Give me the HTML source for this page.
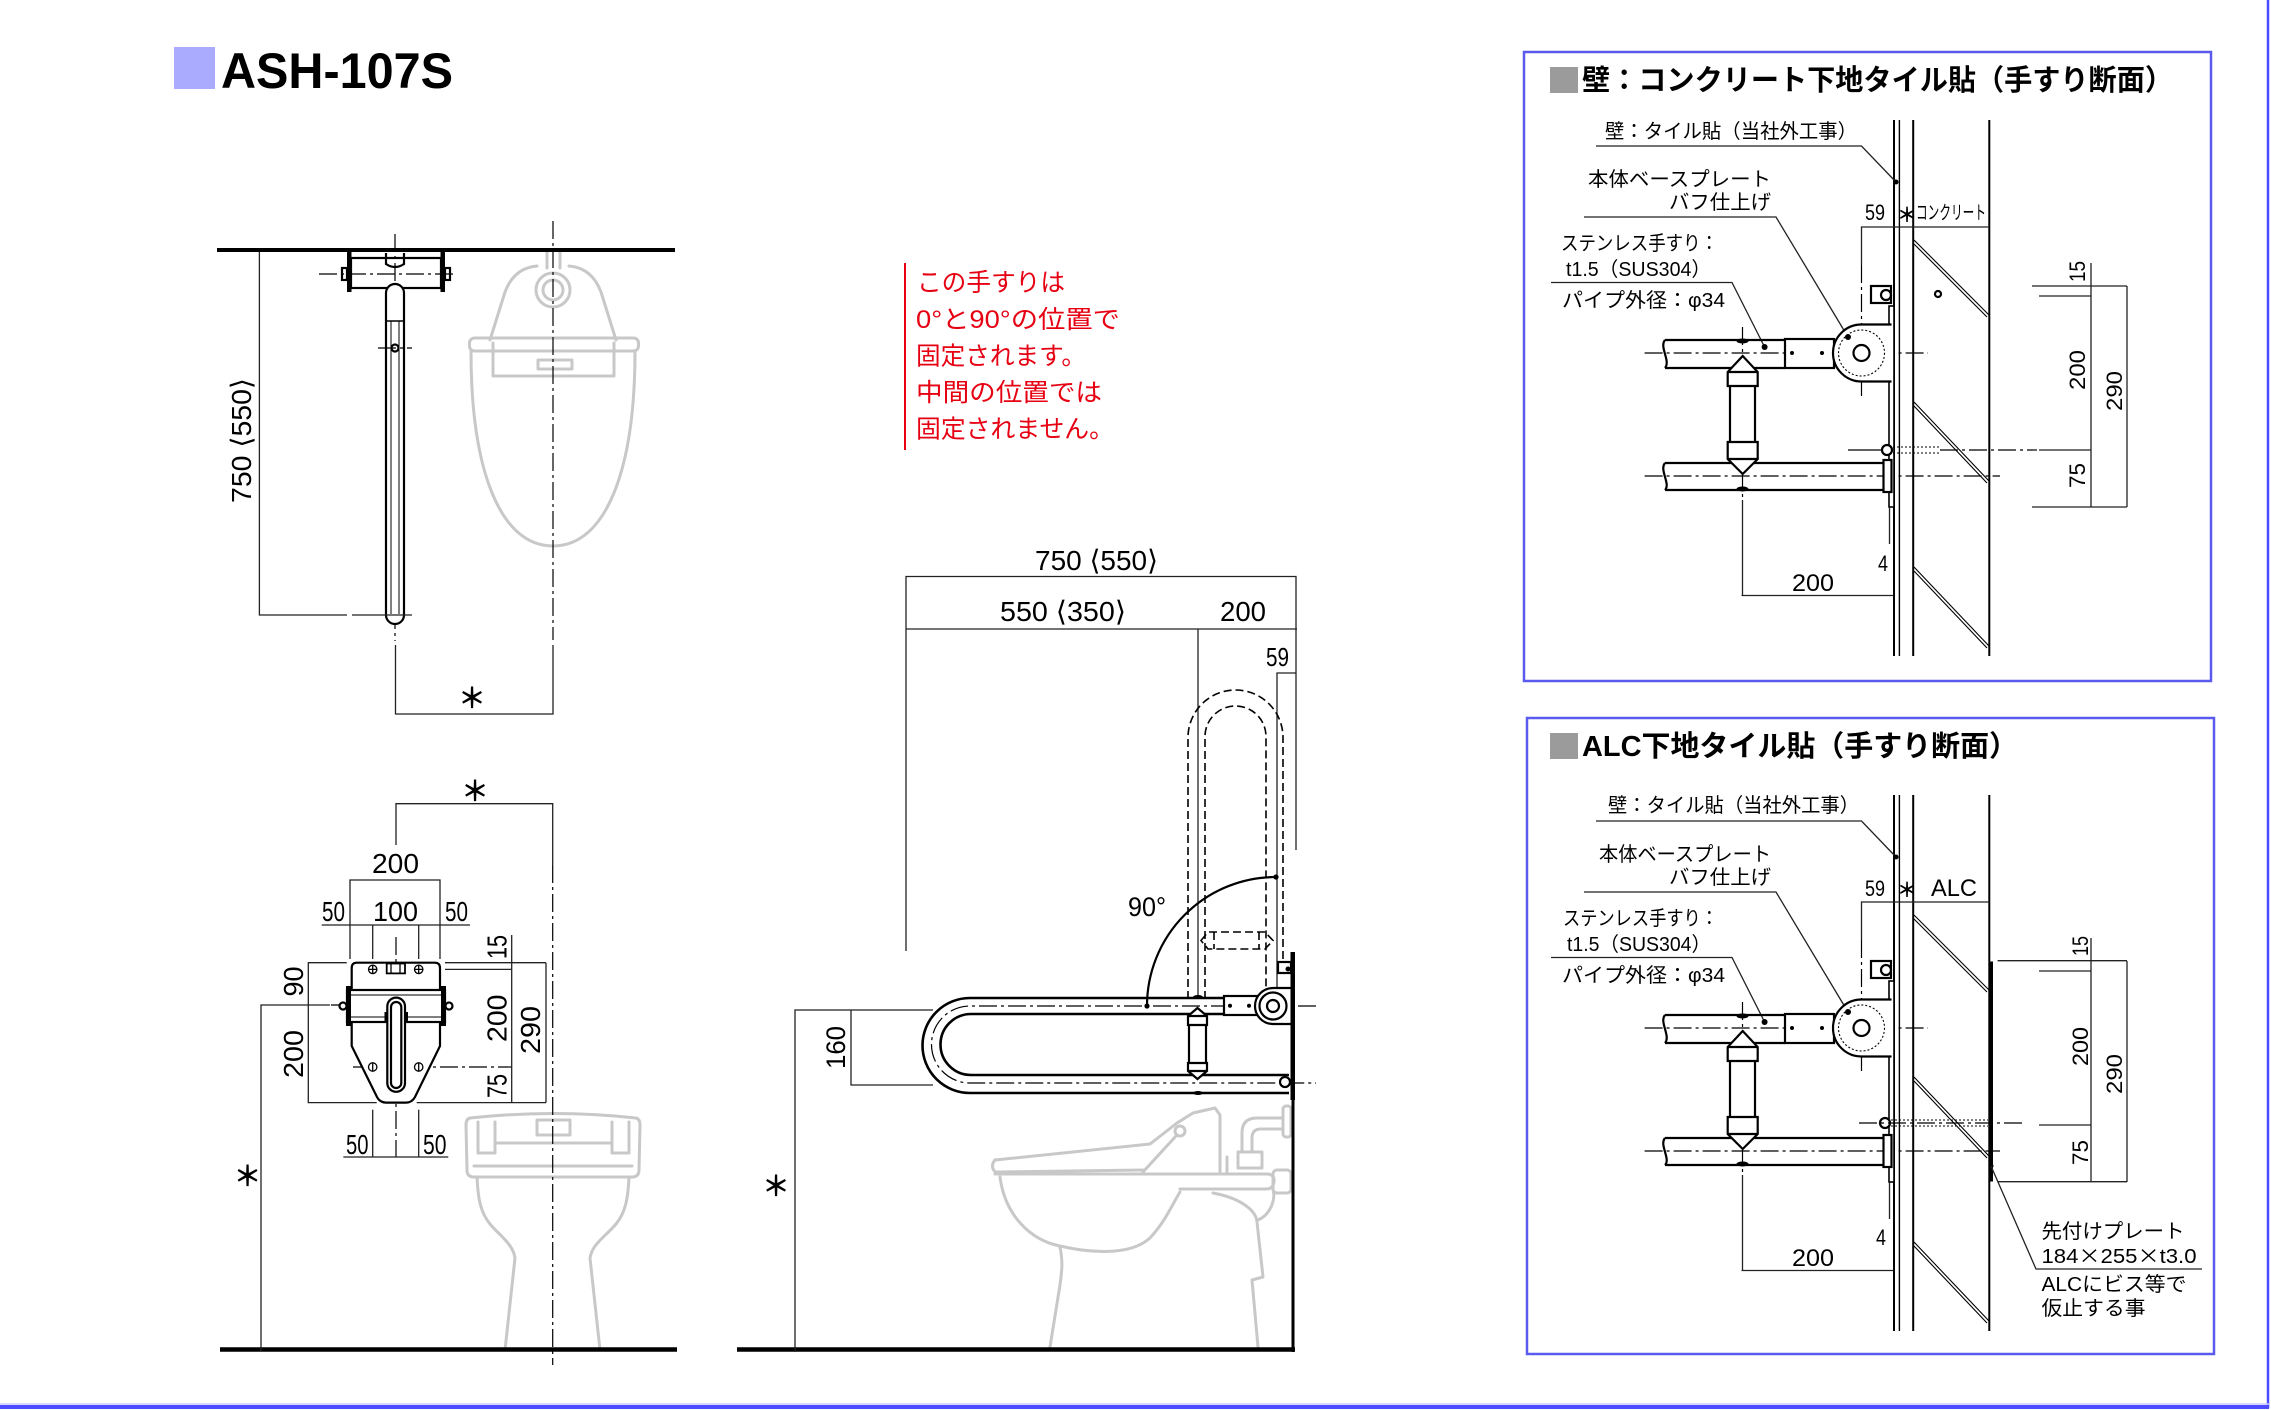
<!DOCTYPE html>
<html><head><meta charset="utf-8">
<style>
html,body{margin:0;padding:0;background:#fff;}
svg{display:block}
text{font-family:"Liberation Sans","DejaVu Sans","Noto Sans CJK JP",sans-serif;fill:#000}
.jp{font-family:"Liberation Sans","Noto Sans CJK JP",sans-serif}
.st{font-family:"Noto Sans CJK JP",sans-serif;font-weight:bold}
.d{stroke:#222;stroke-width:1.3;fill:none}
.o{stroke:#000;stroke-width:2.2;fill:none}
.ow{stroke:#000;stroke-width:2.2;fill:#fff}
.g{stroke:#c8c8c8;stroke-width:3;fill:none;stroke-linejoin:round;stroke-linecap:round}
.c{stroke:#000;stroke-width:1.2;stroke-dasharray:18 4 3 4;fill:none}
.h{stroke:#000;stroke-width:1.6;stroke-dasharray:8 4;fill:none}
</style></head><body>
<svg width="2271" height="1410" viewBox="0 0 2271 1410" xmlns="http://www.w3.org/2000/svg">
<rect width="2271" height="1410" fill="#fff"/>

<!-- page frame -->
<line x1="2268" y1="0" x2="2268" y2="1408" stroke="#4b4bff" stroke-width="2.5"/>
<line x1="0" y1="1407" x2="2269" y2="1407" stroke="#4b4bff" stroke-width="4"/>
<line x1="0" y1="1404" x2="2269" y2="1404" stroke="#c8c8ff" stroke-width="1.5"/>

<!-- title -->
<rect x="174" y="47" width="41" height="42" fill="#aaaaff"/>
<text x="221" y="88" font-size="50" font-weight="bold" textLength="232" lengthAdjust="spacingAndGlyphs">ASH-107S</text>

<!-- ================= PLAN VIEW ================= -->
<g>
  <path class="g" d="M547,252 V268 M560,252 V268"/>
  <circle class="g" cx="553" cy="290" r="17"/>
  <circle class="g" cx="553" cy="290" r="10"/>
  <path class="g" d="M490,340 L505,292 Q514,268 537,266 M569,266 Q592,268 601,292 L616,340"/>
  <rect class="g" x="469.5" y="338" width="169" height="13" rx="5"/>
  <path class="g" d="M493,343 V376 H614 V343"/>
  <rect class="g" x="538" y="360" width="34" height="9"/>
  <path class="g" d="M471,351 C471,470 500,546 553,546 C606,546 635,470 635,351"/>
  <line x1="217" y1="250" x2="675" y2="250" stroke="#000" stroke-width="4"/>
  <line class="c" x1="553" y1="221" x2="553" y2="640"/>
  <line class="c" x1="395" y1="234" x2="395" y2="641"/>
  <line class="c" x1="319" y1="274" x2="454" y2="274"/>
  <rect x="351" y="258" width="90" height="30" class="o"/>
  <rect x="347" y="252" width="4.5" height="40" fill="#000"/>
  <rect x="440.5" y="252" width="4.5" height="40" fill="#000"/>
  <rect x="342" y="268" width="5" height="12" class="o" stroke-width="1.6"/>
  <rect x="445" y="268" width="5" height="12" class="o" stroke-width="1.6"/>
  <path d="M386,253 V264 Q395,270 404,264 V253" class="o" stroke-width="1.6"/>
  <rect x="386" y="284" width="18" height="340" rx="9" class="ow" stroke-width="2"/>
  <line x1="386" y1="321" x2="404" y2="321" stroke="#000" stroke-width="1.6"/>
  <line x1="391" y1="321" x2="391" y2="614" stroke="#000" stroke-width="1"/>
  <line x1="399" y1="321" x2="399" y2="614" stroke="#000" stroke-width="1"/>
  <circle cx="395" cy="348" r="3.5" class="o" stroke-width="1.5"/>
  <line class="c" x1="378" y1="348" x2="412" y2="348"/>
  <polyline class="d" points="259.4,252 259.4,615 347,615"/>
  <line class="d" x1="352" y1="615" x2="412" y2="615"/>
  <polyline class="d" points="395.5,645 395.5,714 553,714 553,645"/>
  <text transform="translate(251,503) rotate(-90)" font-size="28" textLength="125" lengthAdjust="spacingAndGlyphs">750 ⟨550⟩</text>
  <text class="st" x="472" y="708" font-size="28" text-anchor="middle">＊</text>
</g>

<!-- ================= FRONT VIEW ================= -->
<g>
  <path class="g" d="M470,1118 Q553,1109 636,1118 Q640,1119 640,1125 L639,1170 Q639,1177 632,1177 H474 Q467,1177 467,1170 L466,1125 Q466,1119 470,1118 Z"/>
  <path class="g" d="M474,1166 H632 M478,1122 V1153 H495 V1122 M612,1122 V1153 H629 V1122 M495,1143 H612"/>
  <rect class="g" x="537" y="1120" width="33" height="15"/>
  <path class="g" d="M477,1177 C478,1200 481,1213 490,1224 C500,1236 513,1244 515,1258 L505,1350"/>
  <path class="g" d="M629,1177 C628,1200 625,1213 616,1224 C606,1236 592,1244 590,1258 L600,1350"/>
  <line x1="220" y1="1349.5" x2="677" y2="1349.5" stroke="#000" stroke-width="4.5"/>
  <polyline class="d" points="396,845 396,803.7 552.7,803.7 552.7,865"/>
  <line class="c" x1="552.7" y1="865" x2="552.7" y2="1365"/>
  <line class="c" x1="396" y1="937" x2="396" y2="1157"/>
  <line class="c" x1="331" y1="1005" x2="453" y2="1005"/>
  <line class="c" x1="353" y1="1067" x2="511.7" y2="1067"/>
  <path class="ow" stroke-width="2" d="M351.7,968 Q351.7,962.7 357,962.7 H434.7 Q440,962.7 440,968 V1046 L415,1097 Q412,1102.6 406,1102.6 H386 Q380,1102.6 377,1097 L351.7,1046 Z"/>
  <g stroke="#000" stroke-width="1.3" fill="none">
    <circle cx="372.7" cy="969.4" r="4.2"/><path d="M368.5,969.4 H376.9 M372.7,965.2 V973.6"/>
    <circle cx="418.7" cy="969.4" r="4.2"/><path d="M414.5,969.4 H422.9 M418.7,965.2 V973.6"/>
    <circle cx="372.7" cy="1067" r="4.2"/><path d="M372.7,1062.8 V1071.2"/>
    <circle cx="418.7" cy="1067" r="4.2"/><path d="M418.7,1062.8 V1071.2"/>
    <rect x="386.7" y="963.5" width="18.3" height="9.9" stroke-width="1.8"/>
    <path d="M391,963.5 V973 M400,963.5 V973"/>
  </g>
  <rect x="347" y="990" width="98" height="32" class="ow" stroke-width="2"/>
  <path d="M351,995 H441 M351,1017 H441" stroke="#000" stroke-width="1"/>
  <rect x="346" y="986" width="5" height="40" fill="#000"/>
  <rect x="441" y="986" width="5" height="40" fill="#000"/>
  <circle cx="343" cy="1006" r="3.5" class="ow" stroke-width="1.6"/>
  <circle cx="449" cy="1006" r="3.5" class="ow" stroke-width="1.6"/>
  <rect x="387.3" y="997.6" width="17.7" height="94.2" rx="8.85" class="ow" stroke-width="2"/>
  <rect x="391" y="1002" width="10.3" height="86" rx="5.15" class="o" stroke-width="1.3"/>
  <rect x="384.5" y="1012" width="3" height="10" fill="#000"/>
  <rect x="405" y="1012" width="3" height="10" fill="#000"/>
  <g class="d">
    <polyline points="350,959 350,880 440,880 440,959"/>
    <line x1="321.7" y1="925" x2="470" y2="925"/>
    <line x1="372.7" y1="925" x2="372.7" y2="959"/>
    <line x1="418.7" y1="925" x2="418.7" y2="959"/>
    <polyline points="346.7,962.7 308.3,962.7 308.3,1102.6 376.7,1102.6"/>
    <polyline points="330,1005 261,1005 261,1351"/>
    <line x1="372.7" y1="1109.7" x2="372.7" y2="1157"/>
    <line x1="418.7" y1="1109.7" x2="418.7" y2="1157"/>
    <line x1="343.3" y1="1157" x2="448.3" y2="1157"/>
    <line x1="445" y1="962.7" x2="546" y2="962.7"/>
    <line x1="445" y1="969.4" x2="511.7" y2="969.4"/>
    <line x1="416.7" y1="1102.6" x2="546" y2="1102.6"/>
    <line x1="511.7" y1="935" x2="511.7" y2="1102.6"/>
    <line x1="546" y1="962.7" x2="546" y2="1102.6"/>
  </g>
  <text class="st" x="475" y="801" font-size="28" text-anchor="middle">＊</text>
  <text class="st" x="247.5" y="1186" font-size="28" text-anchor="middle">＊</text>
  <g font-size="28">
    <text x="372" y="873" textLength="47" lengthAdjust="spacingAndGlyphs">200</text>
    <text x="322" y="921" textLength="23" lengthAdjust="spacingAndGlyphs">50</text>
    <text x="373" y="921" textLength="45" lengthAdjust="spacingAndGlyphs">100</text>
    <text x="445" y="921" textLength="23" lengthAdjust="spacingAndGlyphs">50</text>
    <text x="346" y="1154" textLength="22.5" lengthAdjust="spacingAndGlyphs">50</text>
    <text x="423" y="1154" textLength="23.5" lengthAdjust="spacingAndGlyphs">50</text>
    <text transform="translate(303,996.5) rotate(-90)" textLength="30" lengthAdjust="spacingAndGlyphs">90</text>
    <text transform="translate(303,1078) rotate(-90)" textLength="48" lengthAdjust="spacingAndGlyphs">200</text>
    <text transform="translate(506.7,959) rotate(-90)" textLength="24" lengthAdjust="spacingAndGlyphs">15</text>
    <text transform="translate(506.7,1042) rotate(-90)" textLength="47.5" lengthAdjust="spacingAndGlyphs">200</text>
    <text transform="translate(506.7,1098) rotate(-90)" textLength="24" lengthAdjust="spacingAndGlyphs">75</text>
    <text transform="translate(540,1054) rotate(-90)" textLength="48" lengthAdjust="spacingAndGlyphs">290</text>
  </g>
</g>

<!-- ================= RED NOTE ================= -->
<g>
  <line x1="905" y1="263" x2="905" y2="450" stroke="#e60012" stroke-width="2"/>
  <g class="jp" font-size="25">
    <text x="917" y="291" style="fill:#e60012" textLength="148" lengthAdjust="spacingAndGlyphs">この手すりは</text>
    <text x="916" y="328" style="fill:#e60012" textLength="204" lengthAdjust="spacingAndGlyphs">0°と90°の位置で</text>
    <text x="916" y="364.5" style="fill:#e60012" textLength="170" lengthAdjust="spacingAndGlyphs">固定されます。</text>
    <text x="916" y="401" style="fill:#e60012" textLength="186" lengthAdjust="spacingAndGlyphs">中間の位置では</text>
    <text x="916" y="437.5" style="fill:#e60012" textLength="198" lengthAdjust="spacingAndGlyphs">固定されません。</text>
  </g>
</g>

<!-- ================= SIDE VIEW ================= -->
<g>
  <path class="g" d="M995,1160 L1150,1144 L1177,1123 L1193,1113 L1215,1108 L1220,1115 V1172"/>
  <path class="g" d="M995,1160 Q990,1166 995,1172 L1143,1170"/>
  <path class="g" d="M1143,1172 L1176,1136"/>
  <circle class="g" cx="1180" cy="1131" r="5"/>
  <path class="g" d="M995,1174 H1268 Q1275,1175 1274,1182 Q1273,1189 1266,1189 H1180"/>
  <path class="g" d="M1000,1177 C1005,1215 1030,1240 1060,1246 C1090,1253 1130,1256 1150,1238 C1165,1222 1172,1205 1180,1192"/>
  <path class="g" d="M1060,1247 C1063,1262 1062,1270 1060,1285 L1050,1347"/>
  <path class="g" d="M1213,1193 C1240,1198 1256,1210 1257,1222 L1263,1277 L1252,1280 L1258,1347"/>
  <path class="g" d="M1273,1189 C1276,1200 1270,1215 1258,1220"/>
  <path class="g" d="M1227,1157 V1172"/>
  <path class="g" d="M1242,1152 V1133 Q1242,1118 1257,1118 H1283 M1252,1152 V1138 Q1252,1129 1261,1129 H1283"/>
  <rect class="g" x="1283" y="1106" width="8" height="31" rx="3"/>
  <rect class="g" x="1238" y="1152" width="24" height="16"/>
  <rect class="g" x="1273" y="1170" width="18" height="23" rx="4"/>
  <line x1="737" y1="1349.5" x2="1295" y2="1349.5" stroke="#000" stroke-width="4.5"/>
  <line x1="1293" y1="952" x2="1293" y2="1352" stroke="#000" stroke-width="3"/>
  <g class="d">
    <polyline points="906,951 906,576.5 1296,576.5 1296,850"/>
    <line x1="906" y1="629" x2="1297" y2="629"/>
    <line x1="1198" y1="629" x2="1198" y2="999"/>
    <polyline points="1277,999 1277,673 1296,673"/>
    <polyline points="795,1352 795,1010 933,1010"/>
    <polyline points="933,1085 851,1085 851,1010"/>
  </g>
  <g font-size="28">
    <text x="1035" y="570" textLength="123" lengthAdjust="spacingAndGlyphs">750 ⟨550⟩</text>
    <text x="1000" y="621" textLength="126" lengthAdjust="spacingAndGlyphs">550 ⟨350⟩</text>
    <text x="1220" y="621" textLength="46" lengthAdjust="spacingAndGlyphs">200</text>
    <text x="1266" y="666" font-size="26" textLength="23" lengthAdjust="spacingAndGlyphs">59</text>
    <text x="1128" y="916" font-size="27" textLength="38" lengthAdjust="spacingAndGlyphs">90°</text>
    <text transform="translate(845,1069) rotate(-90)" font-size="27" textLength="43" lengthAdjust="spacingAndGlyphs">160</text>
  </g>
  <text class="st" x="776" y="1196" font-size="28" text-anchor="middle">＊</text>
  <path class="h" d="M1188,999 V737.5 A47.5 47.5 0 0 1 1283,737.5 V960"/>
  <path class="h" d="M1205,999 V736.5 A30.5 30.5 0 0 1 1266,736.5 V988"/>
  <path class="h" d="M1201,940.5 L1208,932 H1265 L1273,940.5 L1265,949 H1208 Z M1214,932 V949 M1259,932 V949"/>
  <path d="M1147,1006 A129 129 0 0 1 1276,877" stroke="#000" stroke-width="2.2" fill="none"/>
  <circle cx="1147" cy="1006" r="2.6" fill="#000"/>
  <circle cx="1276" cy="877" r="2.6" fill="#000"/>
  <path d="M1226,998 H970 A47.5 47.5 0 0 0 970,1093 H1289" stroke="#000" stroke-width="2.6" fill="none"/>
  <path d="M1226,1014 H971 A30.5 30.5 0 0 0 971,1075 H1289" stroke="#000" stroke-width="2.6" fill="none"/>
  <path class="c" d="M1316,1006 H970 A38.5 38.5 0 0 0 970,1083 H1316"/>
  <rect x="1224" y="996" width="33" height="19" class="ow" stroke-width="2"/>
  <circle cx="1230" cy="1005.7" r="2" fill="#000"/>
  <circle cx="1249" cy="1005.7" r="2" fill="#000"/>
  <path d="M1292,988 H1273 A18 18 0 0 0 1273,1024 H1292" class="ow" stroke-width="2"/>
  <circle cx="1273" cy="1006" r="13.5" class="o" stroke-width="1.6"/>
  <circle cx="1273" cy="1006" r="6" class="o" stroke-width="2"/>
  <rect x="1290.5" y="952" width="4.5" height="148" fill="#000"/>
  <rect x="1278" y="962" width="13" height="11" class="ow" stroke-width="2"/>
  <circle cx="1288" cy="969" r="2.5" fill="#000"/>
  <circle cx="1285" cy="1082" r="5" class="ow" stroke-width="2"/>
  <path class="ow" stroke-width="2" d="M1197.5,1008 L1207,1016 V1025 H1206 V1063 H1207 V1071 L1197.5,1079 L1188,1071 V1063 H1189 V1025 H1188 V1016 Z M1188,1016 H1207 M1188,1025 H1207 M1188,1063 H1207 M1188,1071 H1207"/>
  <ellipse cx="1198" cy="997" rx="5" ry="2" fill="#000"/>
  <ellipse cx="1198" cy="1093" rx="5" ry="2" fill="#000"/>
</g>

<!-- ================= RIGHT PANELS ================= -->
<defs>
<g id="mech">
  <line x1="1894" y1="120" x2="1894" y2="656" stroke="#000" stroke-width="2"/>
  <line x1="1899.4" y1="120" x2="1899.4" y2="656" stroke="#000" stroke-width="1.4"/>
  <line x1="1913.2" y1="120" x2="1913.2" y2="656" stroke="#000" stroke-width="2"/>
  <line x1="1989.3" y1="120" x2="1989.3" y2="656" stroke="#000" stroke-width="2"/>
  <g stroke="#000" stroke-width="1.1">
    <line x1="1914" y1="240" x2="1989" y2="315"/><line x1="1914" y1="244" x2="1987" y2="317"/>
    <line x1="1914" y1="402" x2="1989" y2="481"/><line x1="1914" y1="406" x2="1987" y2="483"/>
    <line x1="1914" y1="567" x2="1989" y2="646"/><line x1="1914" y1="571" x2="1987" y2="648"/>
  </g>
  <g class="d">
    <polyline points="1596,146 1861.5,146 1896,182"/>
    <polyline points="1584,217 1776,217 1848,337"/>
    <polyline points="1551,282.5 1732,282.5 1764.6,347"/>
    <polyline points="1861.5,265 1861.5,227 1989,227"/>
  </g>
  <circle cx="1896" cy="182" r="2.5" fill="#000"/>
  <line class="c" x1="1644.6" y1="353" x2="1928" y2="353"/>
  <line class="c" x1="1644.6" y1="476" x2="2000" y2="476"/>
  <line class="c" x1="1742.5" y1="327" x2="1742.5" y2="500"/>
  <line class="c" x1="1861.5" y1="265" x2="1861.5" y2="396"/>
  <rect x="1889" y="306" width="5" height="201" fill="#fff" stroke="#000" stroke-width="1.6"/>
  <rect x="1871" y="286" width="20" height="17" class="ow" stroke-width="2"/>
  <circle cx="1886" cy="295" r="5" class="o" stroke-width="1.5"/>
  <path d="M1665,340 H1785 M1665,368 H1785" stroke="#000" stroke-width="2.2"/>
  <path d="M1665,340 C1659,347 1671,361 1665,368" class="o" stroke-width="1.8"/>
  <path d="M1665,463 H1884 M1665,490 H1884" stroke="#000" stroke-width="2.2"/>
  <path d="M1665,463 C1659,470 1671,484 1665,490" class="o" stroke-width="1.8"/>
  <rect x="1883.5" y="460" width="8" height="32" class="ow" stroke-width="2"/>
  <rect x="1785" y="339" width="49" height="29" class="ow" stroke-width="2"/>
  <circle cx="1792" cy="353" r="2" fill="#000"/>
  <circle cx="1822" cy="353" r="2" fill="#000"/>
  <path d="M1891.5,324.5 H1861.5 A28.5 28.5 0 0 0 1861.5,381.5 H1891.5" class="ow" stroke-width="2"/>
  <circle cx="1861.5" cy="353" r="23" fill="none" stroke="#000" stroke-width="1.1" stroke-dasharray="2 2"/>
  <circle cx="1861.5" cy="353" r="8" class="o" stroke-width="1.6"/>
  <circle cx="1848" cy="337" r="3" fill="#000"/>
  <path class="ow" stroke-width="2" d="M1742.7,356 L1757.7,372 V386 H1755 V442 H1757.7 V459 L1742.7,474 L1727.7,459 V442 H1730 V386 H1727.7 V372 Z M1727.7,372 H1757.7 M1727.7,386 H1757.7 M1727.7,442 H1757.7 M1727.7,459 H1757.7"/>
  <circle cx="1764.6" cy="347" r="3" fill="#000"/>
  <ellipse cx="1742.5" cy="341" rx="6" ry="2.5" fill="#000"/>
  <ellipse cx="1742.5" cy="489" rx="6" ry="2.5" fill="#000"/>
  <g class="d">
    <line x1="1889.5" y1="507" x2="1889.5" y2="544"/>
    <line x1="1742.5" y1="500" x2="1742.5" y2="595.5"/>
    <line x1="1741.5" y1="595.5" x2="1893" y2="595.5"/>
    <line x1="2091" y1="263" x2="2091" y2="507"/>
    <line x1="2127" y1="286" x2="2127" y2="507"/>
    <line x1="2039" y1="296" x2="2091" y2="296"/>
    <line x1="2039" y1="450" x2="2091" y2="450"/>
  </g>
</g>
</defs>

<!-- top panel -->
<rect x="1524" y="52" width="687" height="629" fill="none" stroke="#5a5aee" stroke-width="2.5"/>
<rect x="1550" y="67" width="28" height="26" fill="#9b9b9b"/>
<text class="jp" x="1582" y="90" font-size="29" font-weight="bold" textLength="591" lengthAdjust="spacingAndGlyphs">壁：コンクリート下地タイル貼（手すり断面）</text>
<use href="#mech"/>
<g class="d">
  <line x1="2032" y1="286" x2="2127" y2="286"/>
  <line x1="2032" y1="507" x2="2127" y2="507"/>
</g>
<circle cx="1887" cy="450" r="5" class="ow" stroke-width="1.5"/>
<line x1="1848" y1="450" x2="1882" y2="450" stroke="#000" stroke-width="1.3"/>
<path d="M1893,447 H1940 M1893,453 H1940" stroke="#000" stroke-width="1" stroke-dasharray="2 2"/>
<line class="c" x1="1940" y1="450" x2="2037" y2="450"/>
<circle cx="1938" cy="294" r="3" class="o" stroke-width="1.2"/>
<g class="jp" font-size="20">
  <text x="1605" y="138" textLength="252" lengthAdjust="spacingAndGlyphs">壁：タイル貼（当社外工事）</text>
  <text x="1588" y="186" textLength="183" lengthAdjust="spacingAndGlyphs">本体ベースプレート</text>
  <text x="1669" y="209" textLength="102" lengthAdjust="spacingAndGlyphs">バフ仕上げ</text>
  <text x="1561" y="250" textLength="157" lengthAdjust="spacingAndGlyphs">ステンレス手すり：</text>
  <text x="1566" y="276" textLength="145" lengthAdjust="spacingAndGlyphs">t1.5（SUS304）</text>
  <text x="1562" y="307" textLength="163" lengthAdjust="spacingAndGlyphs">パイプ外径：φ34</text>
  <text x="1865" y="220" font-size="22" textLength="20" lengthAdjust="spacingAndGlyphs">59</text>
  <text class="st" x="1907" y="222" font-size="20" text-anchor="middle">＊</text>
  <text x="1916" y="219" font-size="19" textLength="70" lengthAdjust="spacingAndGlyphs">コンクリート</text>
  <text x="1878" y="571" font-size="22" textLength="10" lengthAdjust="spacingAndGlyphs">4</text>
  <text x="1792" y="591" font-size="24" textLength="42" lengthAdjust="spacingAndGlyphs">200</text>
  <text transform="translate(2085,282) rotate(-90)" font-size="22" textLength="21" lengthAdjust="spacingAndGlyphs">15</text>
  <text transform="translate(2085,390) rotate(-90)" font-size="22" textLength="40" lengthAdjust="spacingAndGlyphs">200</text>
  <text transform="translate(2122,411) rotate(-90)" font-size="22" textLength="40" lengthAdjust="spacingAndGlyphs">290</text>
  <text transform="translate(2085,488) rotate(-90)" font-size="22" textLength="25" lengthAdjust="spacingAndGlyphs">75</text>
</g>

<!-- bottom panel -->
<rect x="1527" y="718" width="687" height="636" fill="none" stroke="#5a5aee" stroke-width="2.5"/>
<rect x="1550" y="733" width="28" height="26" fill="#9b9b9b"/>
<text class="jp" x="1582" y="756" font-size="29" font-weight="bold" textLength="436" lengthAdjust="spacingAndGlyphs">ALC下地タイル貼（手すり断面）</text>
<use href="#mech" transform="translate(0,675)"/>
<rect x="1989" y="961.5" width="4" height="220" fill="#000"/>
<circle cx="1991" cy="1166" r="2.5" fill="#000"/>
<g class="d">
  <line x1="1997.6" y1="960.7" x2="2127" y2="960.7"/>
  <line x1="1997.6" y1="1181.7" x2="2127" y2="1181.7"/>
  <polyline points="1991,1166 2036,1269 2202,1269"/>
</g>
<circle cx="1885" cy="1123" r="5" class="ow" stroke-width="1.5"/>
<path d="M1891,1120 H1988 M1891,1126 H1988" stroke="#000" stroke-width="1" stroke-dasharray="2 2"/>
<line class="c" x1="1859" y1="1123" x2="2023" y2="1123"/>
<g class="jp" font-size="20">
  <text x="1608" y="812" textLength="251" lengthAdjust="spacingAndGlyphs">壁：タイル貼（当社外工事）</text>
  <text x="1599" y="861" textLength="172" lengthAdjust="spacingAndGlyphs">本体ベースプレート</text>
  <text x="1669" y="884" textLength="102" lengthAdjust="spacingAndGlyphs">バフ仕上げ</text>
  <text x="1563" y="925" textLength="155" lengthAdjust="spacingAndGlyphs">ステンレス手すり：</text>
  <text x="1567" y="951" textLength="144" lengthAdjust="spacingAndGlyphs">t1.5（SUS304）</text>
  <text x="1562" y="982" textLength="163" lengthAdjust="spacingAndGlyphs">パイプ外径：φ34</text>
  <text x="1865" y="896" font-size="22" textLength="20" lengthAdjust="spacingAndGlyphs">59</text>
  <text class="st" x="1907" y="897" font-size="20" text-anchor="middle">＊</text>
  <text x="1931" y="896" font-size="24" textLength="46" lengthAdjust="spacingAndGlyphs">ALC</text>
  <text x="1876" y="1245" font-size="22" textLength="10" lengthAdjust="spacingAndGlyphs">4</text>
  <text x="1792" y="1266" font-size="24" textLength="42" lengthAdjust="spacingAndGlyphs">200</text>
  <text transform="translate(2088,956) rotate(-90)" font-size="22" textLength="20" lengthAdjust="spacingAndGlyphs">15</text>
  <text transform="translate(2088,1066) rotate(-90)" font-size="22" textLength="39" lengthAdjust="spacingAndGlyphs">200</text>
  <text transform="translate(2122,1094) rotate(-90)" font-size="22" textLength="40" lengthAdjust="spacingAndGlyphs">290</text>
  <text transform="translate(2088,1165) rotate(-90)" font-size="22" textLength="25" lengthAdjust="spacingAndGlyphs">75</text>
  <text x="2041.5" y="1238" textLength="143" lengthAdjust="spacingAndGlyphs">先付けプレート</text>
  <text x="2041.5" y="1263" textLength="155" lengthAdjust="spacingAndGlyphs">184<tspan style="font-family:'Noto Sans CJK JP',sans-serif">×</tspan>255<tspan style="font-family:'Noto Sans CJK JP',sans-serif">×</tspan>t3.0</text>
  <text x="2041.5" y="1291" textLength="145" lengthAdjust="spacingAndGlyphs">ALCにビス等で</text>
  <text x="2041.5" y="1315" textLength="104" lengthAdjust="spacingAndGlyphs">仮止する事</text>
</g>
</svg>
</body></html>
